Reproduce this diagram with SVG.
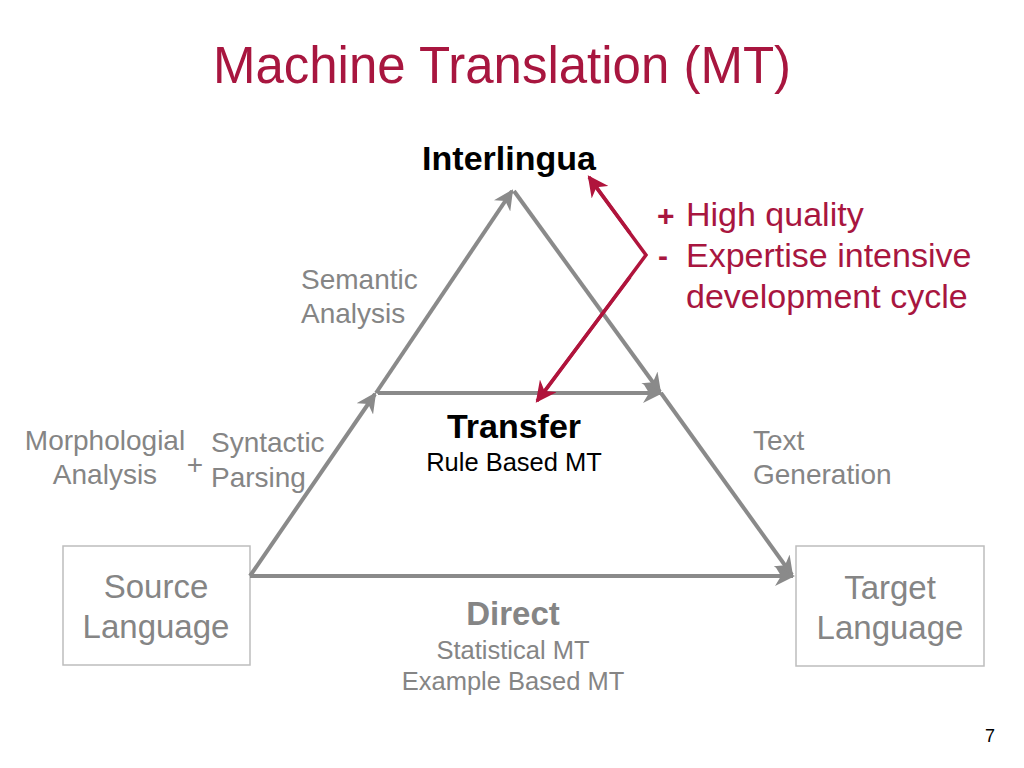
<svg xmlns="http://www.w3.org/2000/svg" width="1024" height="768" viewBox="0 0 1024 768">
<style>
text{font-family:"Liberation Sans",Arial,sans-serif}
.g{fill:#858585}
.r{fill:#A8163F}
.lbl{font-size:28px}
.edge{stroke:#8A8A8A;stroke-width:4;fill:none;marker-end:url(#ga)}
.red{stroke:#B0143C;stroke-width:3.5;fill:none;marker-end:url(#ra)}
.box{fill:#fff;stroke:#BDBDBD;stroke-width:1.5}
</style>
<defs>
<marker id="ga" viewBox="0 0 10 10" refX="9" refY="5" markerWidth="5" markerHeight="5" orient="auto" markerUnits="strokeWidth">
<path d="M0,0 L10,5 L0,10 L3,5 Z" fill="#8A8A8A"/>
</marker>
<marker id="ra" viewBox="0 0 10 10" refX="9" refY="5" markerWidth="6" markerHeight="6" orient="auto" markerUnits="strokeWidth">
<path d="M0,0 L10,5 L0,10 L3,5 Z" fill="#B0143C"/>
</marker>
</defs>
<rect width="1024" height="768" fill="#fff"/>
<text x="502" y="83" text-anchor="middle" font-size="51" class="r">Machine Translation (MT)</text>
<g id="source"><rect class="box" x="63" y="546" width="187" height="119"/>
<text x="156" y="598" text-anchor="middle" font-size="33" class="g">Source</text>
<text x="156" y="638" text-anchor="middle" font-size="33" class="g">Language</text></g>
<g id="target"><rect class="box" x="796" y="546" width="188" height="120"/>
<text x="890" y="599" text-anchor="middle" font-size="33" class="g">Target</text>
<text x="890" y="639" text-anchor="middle" font-size="33" class="g">Language</text></g>
<g id="connectors">
<line class="edge" x1="250" y1="576" x2="375" y2="394"/>
<line class="edge" x1="376" y1="393" x2="512" y2="191"/>
<line class="edge" x1="514" y1="191" x2="660" y2="392"/>
<line class="edge" x1="378" y1="393" x2="661" y2="393"/>
<line class="edge" x1="661" y1="393" x2="792" y2="575"/>
<line class="edge" x1="250" y1="576" x2="793" y2="576"/>
<polyline fill="none" stroke="#B0143C" stroke-width="3.5" points="590,179 646,255 539,399"/>
<line class="red" x1="630" y1="233" x2="589" y2="177"/>
<line class="red" x1="630" y1="277" x2="537" y2="401"/>
</g>
<g id="interlingua"><text x="509" y="170" text-anchor="middle" font-size="34" font-weight="bold" fill="#000">Interlingua</text></g>
<g id="pros"><text x="657" y="226" font-size="30" font-weight="bold" class="r">+</text>
<text x="686" y="226" font-size="34" class="r">High quality</text>
<text x="658" y="266" font-size="30" font-weight="bold" class="r">-</text>
<text x="686" y="267" font-size="34" class="r">Expertise intensive</text>
<text x="686" y="308" font-size="34" class="r">development cycle</text></g>
<g id="semantic"><text x="301" y="289" class="g lbl">Semantic</text>
<text x="301" y="323" class="g lbl">Analysis</text></g>
<g id="morph"><text x="105" y="450" text-anchor="middle" class="g lbl">Morphologial</text>
<text x="105" y="484" text-anchor="middle" class="g lbl">Analysis</text>
<text x="195" y="474" text-anchor="middle" class="g lbl">+</text>
<text x="211" y="452" class="g lbl">Syntactic</text>
<text x="211" y="487" class="g lbl">Parsing</text></g>
<g id="textgen"><text x="753" y="450" class="g lbl">Text</text>
<text x="753" y="484" class="g lbl">Generation</text></g>
<g id="transfer"><text x="514" y="438" text-anchor="middle" font-size="34" font-weight="bold" fill="#000">Transfer</text>
<text x="514" y="471" text-anchor="middle" font-size="25.5" fill="#000">Rule Based MT</text></g>
<g id="direct"><text x="513" y="625" text-anchor="middle" font-size="33" font-weight="bold" class="g">Direct</text>
<text x="513" y="659" text-anchor="middle" font-size="25.5" class="g">Statistical MT</text>
<text x="513" y="690" text-anchor="middle" font-size="25.5" class="g">Example Based MT</text></g>
<text x="990" y="742" text-anchor="middle" font-size="18" fill="#000">7</text>
</svg>
